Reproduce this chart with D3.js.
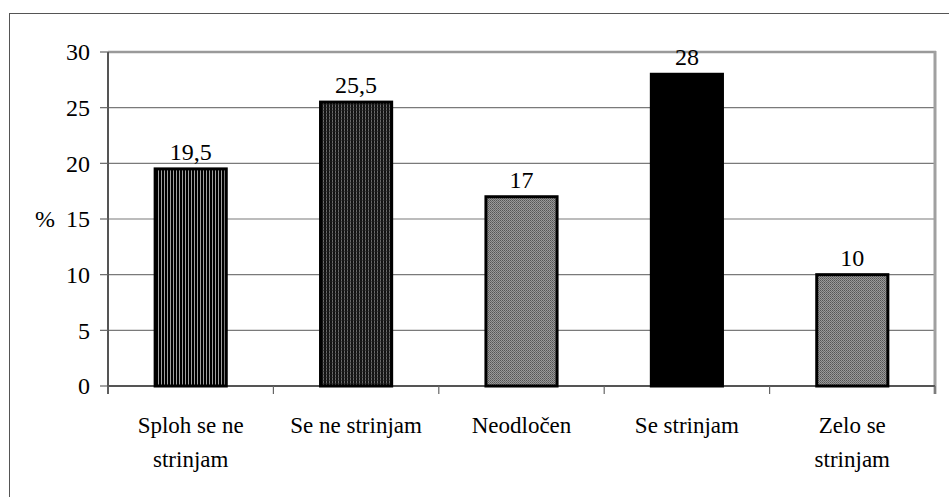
<!DOCTYPE html>
<html>
<head>
<meta charset="utf-8">
<script src="https://cdn.jsdelivr.net/npm/d3@7"></script>
</head>
<body style="margin:0">
<svg id="fig" width="949" height="497"></svg>
<script>
// data
const categories = [["Sploh se ne", "strinjam"], ["Se ne strinjam"], ["Neodločen"], ["Se strinjam"], ["Zelo se", "strinjam"]];
const values = [19.5, 25.5, 17, 28, 10];
const value_labels = ["19,5", "25,5", "17", "28", "10"];
const fills = ["stripes", "dense", "dots", "solid", "dots"];
const y_ticks = [0, 5, 10, 15, 20, 25, 30];

const FONT = '"Liberation Serif"';
const svg = d3.select("#fig");
const margin = {left: 108, top: 52, right: 935, bottom: 386};

// patterns
const defs = svg.append("defs");
let p1 = defs.append("pattern").attr("id", "stripes")
    .attr("patternUnits", "userSpaceOnUse").attr("width", 3).attr("height", 3);
p1.append("rect").attr("width", 3).attr("height", 3).attr("fill", "#000");
p1.append("rect").attr("x", 2).attr("width", 1).attr("height", 3).attr("fill", "#a0a0a0");

let p2 = defs.append("pattern").attr("id", "dense")
    .attr("patternUnits", "userSpaceOnUse").attr("width", 3).attr("height", 3);
p2.append("rect").attr("width", 3).attr("height", 3).attr("fill", "#111");
p2.append("rect").attr("x", 2).attr("width", 1).attr("height", 3).attr("fill", "#6a6a6a");
p2.append("rect").attr("y", 2).attr("width", 3).attr("height", 1).attr("fill", "#222").attr("opacity", 0.6);

let p3 = defs.append("pattern").attr("id", "dots")
    .attr("patternUnits", "userSpaceOnUse").attr("width", 2).attr("height", 2);
p3.append("rect").attr("width", 2).attr("height", 2).attr("fill", "#9a9a9a");
p3.append("rect").attr("width", 1).attr("height", 1).attr("fill", "#555");
p3.append("rect").attr("x", 1).attr("y", 1).attr("width", 1).attr("height", 1).attr("fill", "#6a6a6a");

// outer frame (left and top only visible)
svg.append("rect").attr("x", 9.5).attr("y", 13.5).attr("width", 960).attr("height", 500)
    .attr("fill", "none").attr("stroke", "#555").attr("stroke-width", 1);

const x = d3.scaleBand().domain(d3.range(values.length))
    .range([margin.left, margin.right]).paddingInner(0.57).paddingOuter(0.285);
const y = d3.scaleLinear().domain([0, 30]).range([margin.bottom, margin.top]);

// gridlines
svg.append("g").selectAll("line").data(y_ticks.filter(d => d > 0 && d < 30)).join("line")
    .attr("x1", margin.left).attr("x2", margin.right)
    .attr("y1", d => y(d)).attr("y2", d => y(d))
    .attr("stroke", "#7a7a7a").attr("stroke-width", 1.2);

// plot border top and right
svg.append("line").attr("x1", margin.left).attr("x2", margin.right + 1)
    .attr("y1", y(30)).attr("y2", y(30)).attr("stroke", "#9a9a9a").attr("stroke-width", 2.5);
svg.append("line").attr("x1", margin.right).attr("x2", margin.right)
    .attr("y1", y(30) - 1).attr("y2", margin.bottom + 8).attr("stroke", "#a0a0a0").attr("stroke-width", 3);

// y axis, ticks by hand
svg.append("line").attr("x1", margin.left).attr("x2", margin.left)
    .attr("y1", margin.top).attr("y2", margin.bottom + 8).attr("stroke", "#555").attr("stroke-width", 2);
const yt = svg.append("g").selectAll("g").data(y_ticks).join("g")
    .attr("transform", d => `translate(${margin.left},${y(d)})`);
yt.append("line").attr("x1", -8).attr("x2", 0).attr("stroke", "#666").attr("stroke-width", 1.2);
yt.append("text").attr("x", -18).attr("dy", "0.35em").attr("text-anchor", "end")
    .attr("font-family", "Liberation Serif")
    .style("font-family", FONT).style("font-size", "24px").text(d => d);

svg.append("text").attr("x", 35).attr("y", y(15)).attr("dy", "0.35em")
    .attr("font-family", "Liberation Serif")
    .style("font-family", FONT).style("font-size", "24px").text("%");

// x axis
svg.append("line").attr("x1", margin.left - 1).attr("x2", margin.right)
    .attr("y1", margin.bottom).attr("y2", margin.bottom).attr("stroke", "#555").attr("stroke-width", 2);
const step = (margin.right - margin.left) / values.length;
svg.append("g").selectAll("line").data(d3.range(values.length + 1)).join("line")
    .attr("x1", d => margin.left + d * step).attr("x2", d => margin.left + d * step)
    .attr("y1", margin.bottom).attr("y2", margin.bottom + 8)
    .attr("stroke", "#666").attr("stroke-width", 1.2);

// bars
svg.append("g").selectAll("rect").data(values).join("rect")
    .attr("x", (d, i) => x(i)).attr("width", x.bandwidth())
    .attr("y", d => y(d)).attr("height", d => y(0) - y(d))
    .attr("fill", (d, i) => fills[i] === "solid" ? "#000" : `url(#${fills[i]})`)
    .attr("stroke", "#000").attr("stroke-width", 3);

// value labels
svg.append("g").selectAll("text").data(values).join("text")
    .attr("x", (d, i) => x(i) + x.bandwidth() / 2).attr("y", d => y(d) - 9)
    .attr("text-anchor", "middle").attr("font-family", "Liberation Serif")
    .style("font-family", FONT).style("font-size", "24px")
    .text((d, i) => value_labels[i]);

// category labels
const cat = svg.append("g").selectAll("text").data(categories).join("text")
    .attr("text-anchor", "middle").attr("font-family", "Liberation Serif")
    .style("font-family", FONT).style("font-size", "23px")
    .attr("transform", (d, i) => `translate(${x(i) + x.bandwidth() / 2},0)`);
cat.selectAll("tspan").data(d => d).join("tspan")
    .attr("x", 0).attr("y", (d, j) => 433 + j * 34).text(d => d);
</script>
</body>
</html>
